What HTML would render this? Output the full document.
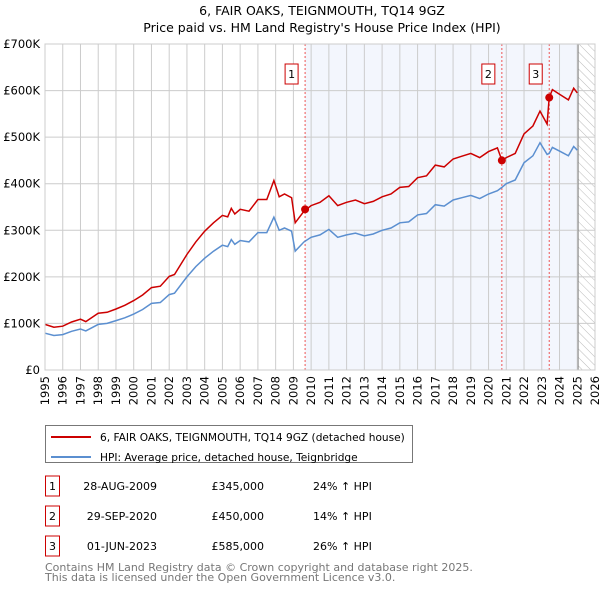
<!DOCTYPE html>
<html><head><meta charset="utf-8"><style>
body{margin:0;background:#fff;font-family:"DejaVu Sans","Liberation Sans",sans-serif;}
svg text{font-family:"DejaVu Sans","Liberation Sans",sans-serif;}
</style></head><body>
<svg id="chart" width="600" height="590" viewBox="0 0 600 590" xmlns="http://www.w3.org/2000/svg">
<defs><pattern id="hatch" width="6" height="6" patternUnits="userSpaceOnUse" patternTransform="rotate(-45)"><line x1="0" y1="0" x2="0" y2="6" stroke="#bbb" stroke-width="1"/></pattern></defs>
<text x="322" y="15" font-size="12.5" text-anchor="middle">6, FAIR OAKS, TEIGNMOUTH, TQ14 9GZ</text>
<text x="322" y="32" font-size="12.5" text-anchor="middle">Price paid vs. HM Land Registry's House Price Index (HPI)</text>
<g id="plot"></g>
<g>
<rect x="45.5" y="425.5" width="367" height="37" fill="#fff" stroke="#777"/>
<line x1="51" y1="437" x2="91" y2="437" stroke="#cc0000" stroke-width="2"/>
<text x="100" y="441" font-size="10.6">6, FAIR OAKS, TEIGNMOUTH, TQ14 9GZ (detached house)</text>
<line x1="51" y1="457" x2="91" y2="457" stroke="#5b8fd0" stroke-width="2"/>
<text x="100" y="461" font-size="10.6">HPI: Average price, detached house, Teignbridge</text>
</g>
<g id="table" font-size="11"></g>
<text x="45" y="571" font-size="11" fill="#777">Contains HM Land Registry data © Crown copyright and database right 2025.</text>
<text x="45" y="581" font-size="11" fill="#777">This data is licensed under the Open Government Licence v3.0.</text>
</svg>
<script>
const years=[1995,1995.5,1996,1996.5,1997,1997.3,1998,1998.5,1999,1999.5,2000,2000.5,2001,2001.5,2002,2002.3,2003,2003.5,2004,2004.5,2005,2005.3,2005.5,2005.7,2006,2006.5,2007,2007.5,2007.9,2008.2,2008.5,2008.9,2009.1,2009.6,2010,2010.5,2011,2011.5,2012,2012.5,2013,2013.5,2014,2014.5,2015,2015.5,2016,2016.5,2017,2017.5,2018,2018.5,2019,2019.5,2020,2020.5,2020.75,2021,2021.5,2022,2022.5,2022.9,2023.3,2023.42,2023.6,2024,2024.5,2024.8,2025];
const hpi=[79,74,76,83,88,84,98,100,106,112,120,130,143,145,162,165,200,222,240,255,268,265,280,270,278,275,295,295,328,300,305,298,255,275,285,290,302,285,290,294,288,292,300,305,316,318,333,336,355,352,365,370,375,368,378,385,392,400,408,445,460,488,463,465,478,470,460,480,472];
const red=[98,92,94,103,109,104,122,124,131,139,149,161,177,180,201,205,248,275,298,316,332,329,347,335,345,341,366,366,407,372,378,370,316,341,353,360,374,353,360,365,357,362,372,378,392,394,413,417,440,436,453,459,465,456,469,477,450,456,465,507,524,556,528,585,602,592,580,605,595];
const saleYears=[2009.66,2020.75,2023.42];
const salePrices=[345,450,585];
const saleDates=["28-AUG-2009","29-SEP-2020","01-JUN-2023"];
const salePriceLabels=["£345,000","£450,000","£585,000"];
const saleHpi=["24% ↑ HPI","14% ↑ HPI","26% ↑ HPI"];
const yTicks=[0,100,200,300,400,500,600,700];
const yTickLabels=["£0","£100K","£200K","£300K","£400K","£500K","£600K","£700K"];
const xTicks=[];for(let y=1995;y<=2026;y++)xTicks.push(y);
const dataEnd=2025.05;

const L=45,R=595,T=44,B=370;
const X=y=>L+(y-1995)/(2026-1995)*(R-L);
const Y=v=>B-v/700*(B-T);
const NS="http://www.w3.org/2000/svg";
const plot=document.getElementById('plot');
function mk(tag,at,parent){const e=document.createElementNS(NS,tag);for(const k in at)e.setAttribute(k,at[k]);(parent||plot).appendChild(e);return e;}

let e=mk('rect',{x:X(saleYears[0]),y:T,width:X(dataEnd)-X(saleYears[0]),height:B-T,fill:'#f3f6fd'});


e=mk('rect',{x:X(dataEnd),y:T,width:R-X(dataEnd),height:B-T,fill:'url(#hatch)'});


xTicks.forEach(t=>{const l=mk('line',{x1:X(t),x2:X(t),y1:T,y2:B,stroke:'#ccc','stroke-width':1});


const tx=mk('text',{x:0,y:0,'font-size':11.5,'text-anchor':'end',transform:`translate(${X(t)+4},${B+6}) rotate(-90)`});tx.textContent=t;

});
yTicks.forEach((t,i)=>{const l=mk('line',{x1:L,x2:R,y1:Y(t),y2:Y(t),stroke:'#ccc','stroke-width':1});


const tx=mk('text',{x:L-5,y:Y(t)+4,'font-size':11.5,'text-anchor':'end'});tx.textContent=yTickLabels[i];

});
e=mk('line',{x1:X(dataEnd),x2:X(dataEnd),y1:T,y2:B,stroke:'#888','stroke-width':1});


saleYears.forEach((s,i)=>{const l=mk('line',{x1:X(s),x2:X(s),y1:T,y2:B,stroke:'#e55','stroke-width':1,'stroke-dasharray':'2,2'});


const g=mk('g',{});


mk('rect',{x:X(s)-20,y:64,width:13,height:20,fill:'#fff',stroke:'#cc0000'},g);
const t=mk('text',{x:X(s)-13.5,y:78,'font-size':11,'text-anchor':'middle'},g);t.textContent=i+1;});
function path(vals){return years.map((y,i)=>(i?'L':'M')+X(y).toFixed(1)+','+Y(vals[i]).toFixed(1)).join('');}
e=mk('path',{d:path(hpi),fill:'none',stroke:'#5b8fd0','stroke-width':1.5});


e=mk('path',{d:path(red),fill:'none',stroke:'#cc0000','stroke-width':1.5});


saleYears.forEach((s,i)=>{const c=mk('circle',{cx:X(s),cy:Y(salePrices[i]),r:4,fill:'#cc0000'});

});
e=mk('rect',{x:L,y:T,width:R-L,height:B-T,fill:'none',stroke:'#ccc'});

const tb=document.getElementById('table');
saleYears.forEach((s,i)=>{const cy=486+i*30;
const g=mk('g',{},tb);


mk('rect',{x:45.5,y:cy-10,width:14,height:20,fill:'#fff',stroke:'#cc0000'},g);
let t=mk('text',{x:52.5,y:cy+4,'text-anchor':'middle'},g);t.textContent=i+1;
t=mk('text',{x:157,y:cy+4,'text-anchor':'end'},g);t.textContent=saleDates[i];
t=mk('text',{x:264,y:cy+4,'text-anchor':'end'},g);t.textContent=salePriceLabels[i];
t=mk('text',{x:313,y:cy+4},g);t.textContent=saleHpi[i];});
</script>
</body></html>
